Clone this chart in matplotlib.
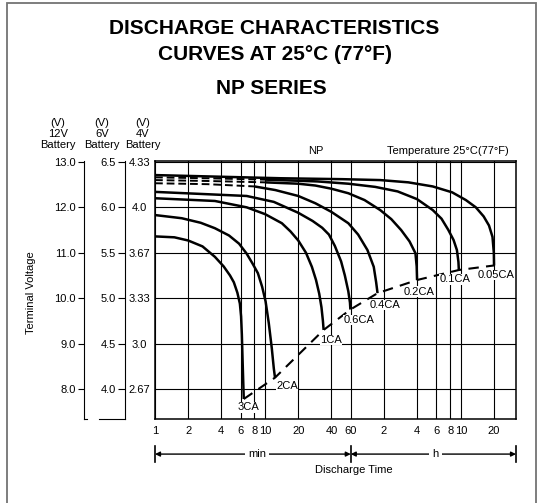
import matplotlib
matplotlib.use('Agg')
import matplotlib.pyplot as plt
import matplotlib.transforms as mtransforms
from matplotlib.ticker import NullLocator
from matplotlib.patches import Rectangle

plt.rcParams['font.family'] = ['Liberation Sans', 'DejaVu Sans']

# discharge curves: time in minutes, voltage on the 12V battery scale
t_3ca = [1, 1.5, 2, 2.7, 3.5, 4.2, 4.8, 5.2, 5.6, 5.9, 6.05, 6.15, 6.25, 6.4]
v_3ca = [11.36, 11.34, 11.27, 11.14, 10.91, 10.7, 10.5, 10.35, 10.12, 9.88, 9.6, 9.2, 8.6, 7.78]

t_2ca = [1, 1.75, 2.6, 3.5, 4.7, 5.8, 6.8, 7.7, 8.6, 9.4, 10.1, 10.8, 11.5, 12.0, 12.3]
v_2ca = [11.83, 11.76, 11.66, 11.54, 11.38, 11.2, 10.98, 10.76, 10.55, 10.25, 9.93, 9.45, 8.9, 8.45, 8.25]

t_1ca = [1, 3.5, 6.8, 10, 14.2, 17, 20, 23.5, 26.6, 29, 31, 32.5, 33.5, 34]
v_1ca = [12.2, 12.14, 12.0, 11.85, 11.65, 11.47, 11.27, 11.0, 10.69, 10.4, 10.1, 9.8, 9.5, 9.3]

t_06ca = [1, 6.8, 12, 20, 27, 33, 38, 43, 49, 53, 57, 59, 59.5]
v_06ca = [12.34, 12.25, 12.12, 11.88, 11.7, 11.55, 11.4, 11.15, 10.81, 10.5, 10.15, 9.9, 9.75]

t_04ca_start = [1, 3, 8]
v_04ca_start = [12.53, 12.51, 12.46]
t_04ca = [8, 12.4, 20, 28.6, 40, 57, 70, 85, 97, 102, 105]
v_04ca = [12.46, 12.38, 12.25, 12.09, 11.9, 11.65, 11.4, 11.06, 10.69, 10.35, 10.11]

t_02ca_start = [1, 3, 10]
v_02ca_start = [12.60, 12.58, 12.55]
t_02ca = [10, 20, 28.6, 40, 57, 80, 111, 140, 172, 205, 232, 238, 240]
v_02ca = [12.55, 12.52, 12.48, 12.41, 12.31, 12.16, 11.94, 11.74, 11.5, 11.25, 10.99, 10.7, 10.4]

t_01ca_start = [1, 3, 10]
v_01ca_start = [12.66, 12.64, 12.61]
t_01ca = [10, 30, 57, 100, 160, 240, 333, 400, 462, 515, 552, 570, 575]
v_01ca = [12.61, 12.57, 12.52, 12.45, 12.35, 12.18, 11.94, 11.75, 11.5, 11.28, 11.06, 10.8, 10.62]

t_005ca = [1, 14, 50, 111, 200, 333, 500, 666, 820, 966, 1080, 1162, 1195, 1200]
v_005ca = [12.71, 12.64, 12.62, 12.6, 12.55, 12.46, 12.33, 12.16, 12.0, 11.8, 11.6, 11.35, 11.0, 10.72]

rate_labels = ['3CA', '2CA', '1CA', '0.6CA', '0.4CA', '0.2CA', '0.1CA', '0.05CA']
label_t = [7.1, 15.8, 39.6, 71.4, 123.5, 250, 533, 1256]
label_v = [7.60, 8.07, 9.08, 9.52, 9.85, 10.14, 10.42, 10.51]

x_ticks = [1, 2, 4, 6, 8, 10, 20, 40, 60, 120, 240, 360, 480, 600, 1200]
x_labels = ['1', '2', '4', '6', '8', '10', '20', '40', '60', '2', '4', '6', '8', '10', '20']
v12_ticks = [8.0, 9.0, 10.0, 11.0, 12.0, 13.0]
v6_ticks = [4.0, 4.5, 5.0, 5.5, 6.0, 6.5]
v4_labels = ['2.67', '3.0', '3.33', '3.67', '4.0', '4.33']

W, H = 539, 503
fs = 8
fig = plt.figure(figsize=(W / 100, H / 100), dpi=100)

left, right, top, bottom = 155, 516, 161, 419
ylim = (7.34, 13.02)
xlim = (1, 1900)
ax = fig.add_axes([left / W, 1 - bottom / H, (right - left) / W, (bottom - top) / H])
ax.set_xscale('log')
ax.set_xlim(*xlim)
ax.set_ylim(*ylim)
ax.xaxis.set_minor_locator(NullLocator())
ax.set_xticks(x_ticks)
ax.set_xticklabels(x_labels)
ax.set_yticks(v12_ticks)
ax.set_yticklabels(v4_labels)
for lbl in ax.get_yticklabels():
    lbl.set_horizontalalignment('center')
ax.tick_params(axis='x', length=0, pad=5, labelsize=fs)
ax.tick_params(axis='y', length=0, pad=11, labelsize=fs)
ax.grid(True, color='black', lw=0.8)
for s in ax.spines.values():
    s.set_linewidth(1.1)

lw = 1.8
for t, v in [(t_3ca, v_3ca), (t_2ca, v_2ca), (t_1ca, v_1ca), (t_06ca, v_06ca),
             (t_04ca, v_04ca), (t_02ca, v_02ca), (t_01ca, v_01ca), (t_005ca, v_005ca)]:
    ax.plot(t, v, color='black', lw=lw, solid_capstyle='butt')
for t, v in [(t_04ca_start, v_04ca_start), (t_02ca_start, v_02ca_start), (t_01ca_start, v_01ca_start)]:
    ax.plot(t, v, color='black', lw=1.4, ls=(0, (4, 2)))

# end-of-discharge line through the curve ends
end_t = [c[-1] for c in [t_3ca, t_2ca, t_1ca, t_06ca, t_04ca, t_02ca, t_01ca, t_005ca]]
end_v = [c[-1] for c in [v_3ca, v_2ca, v_1ca, v_06ca, v_04ca, v_02ca, v_01ca, v_005ca]]
ax.plot(end_t, end_v, color='black', lw=1.5, ls=(0, (5, 3.5)))

for name, t, v in zip(rate_labels, label_t, label_v):
    ax.text(t, v, name, fontsize=fs, ha='center', va='center', clip_on=False,
            bbox=dict(facecolor='white', edgecolor='none', pad=0.3))

ax.text(0.445, 1.04, 'NP', transform=ax.transAxes, fontsize=fs, ha='center', va='center')
ax.text(0.81, 1.04, 'Temperature 25°C(77°F)', transform=ax.transAxes,
        fontsize=fs, ha='center', va='center')

# min / h arrows under the axis
trans = mtransforms.blended_transform_factory(ax.transData, ax.transAxes)
ya = -0.136
for x0, x1 in [(xlim[0], 60), (60, xlim[1])]:
    ax.annotate('', xy=(x0, ya), xytext=(x1, ya), xycoords=trans, textcoords=trans,
                arrowprops=dict(arrowstyle='<|-|>', color='black', lw=1.0,
                                shrinkA=0, shrinkB=0, mutation_scale=7))
for x in [xlim[0], 60, xlim[1]]:
    ax.plot([x, x], [ya - 0.03, ya + 0.03], color='black', lw=1.2,
            transform=trans, clip_on=False)
ax.text(0.283, ya, 'min', transform=ax.transAxes, fontsize=fs, ha='center', va='center',
        bbox=dict(facecolor='white', edgecolor='none', pad=2))
ax.text(0.778, ya, 'h', transform=ax.transAxes, fontsize=fs, ha='center', va='center',
        bbox=dict(facecolor='white', edgecolor='none', pad=2.5))
ax.text(0.551, -0.198, 'Discharge Time', transform=ax.transAxes, fontsize=fs,
        ha='center', va='center')

# 12V scale
ax12 = fig.add_axes([83.5 / W, 1 - bottom / H, 3.5 / W, (bottom - top) / H])
ax12.set_ylim(*ylim)
ax12.patch.set_visible(False)
ax12.spines['top'].set_visible(False)
ax12.spines['right'].set_visible(False)
ax12.set_xticks([])
ax12.set_yticks(v12_ticks)
ax12.set_yticklabels(['%.1f' % v for v in v12_ticks])
ax12.tick_params(axis='y', direction='out', length=4, width=0.8, labelsize=fs, pad=1.5)

# 6V scale
ax6 = fig.add_axes([99 / W, 1 - bottom / H, 26 / W, (bottom - top) / H])
ax6.set_ylim(ylim[0] / 2, ylim[1] / 2)
ax6.patch.set_visible(False)
ax6.spines['top'].set_visible(False)
ax6.spines['right'].set_visible(False)
ax6.spines['left'].set_position(('axes', 1.0))
ax6.set_xticks([])
ax6.set_yticks(v6_ticks)
ax6.set_yticklabels(['%.1f' % v for v in v6_ticks])
ax6.tick_params(axis='y', direction='out', length=5, width=0.8, labelsize=fs, pad=1.5)

for xc, name in [(58, '12V'), (102, '6V'), (143, '4V')]:
    fig.text(xc / W, 1 - 150 / H, '(V)\n' + name + '\nBattery', fontsize=fs,
             ha='center', va='bottom', linespacing=1.1)

fig.text(31 / W, 1 - 293 / H, 'Terminal Voltage', rotation=90, fontsize=fs,
         ha='center', va='center')

fig.text(274 / W, 1 - 28 / H, 'DISCHARGE CHARACTERISTICS', fontsize=15,
         fontweight='bold', ha='center', va='center')
fig.text(275 / W, 1 - 54 / H, 'CURVES AT 25°C (77°F)', fontsize=15,
         fontweight='bold', ha='center', va='center')
fig.text(271 / W, 1 - 88 / H, 'NP SERIES', fontsize=15,
         fontweight='bold', ha='center', va='center')

fig.patches.append(Rectangle((7 / W, -0.02), (536 - 7) / W, 1.02 - 3 / H,
                             transform=fig.transFigure, fill=False,
                             edgecolor='0.45', lw=1.3))

fig.savefig('out.png', dpi=100)
